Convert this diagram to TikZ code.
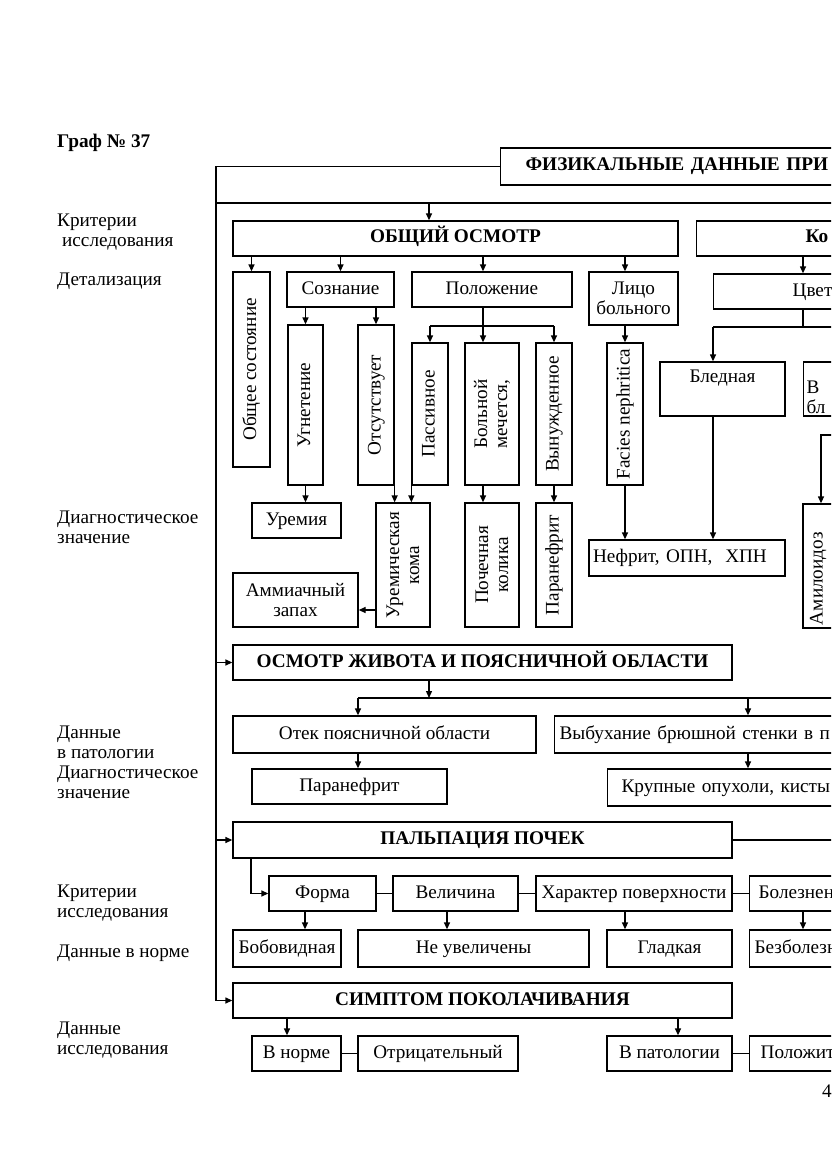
\documentclass[tikz,border=0pt]{standalone}
\usepackage{fontspec}
\setmainfont{Liberation Serif}
\usetikzlibrary{arrows.meta,calc}
\tikzset{every picture/.style={font=\rmfamily\fontsize{19.2}{20}\selectfont}}

\begin{document}
\begin{tikzpicture}[
  x=1pt, y=-1pt,
  box/.style={rectangle, draw, line width=1.3pt, inner sep=2pt, align=center,
    text height=13.5pt, text depth=4.5pt},
  multi/.style={text height=, text depth=},
  sz/.style 2 args={minimum width=#1pt, minimum height=#2pt},
  vbox/.style={box, rotate=90},
  hd/.style={box, font=\rmfamily\fontsize{19.3}{20}\selectfont\bfseries},
  cut/.style={box, anchor=west, align=left, text width=420pt, inner xsep=#1pt},
  lbl/.style={anchor=base west, align=left, inner sep=0pt},
  arrow/.style={-{Triangle[length=7pt,width=6pt]}, line width=1.3pt},
  line/.style={line width=1.3pt}
]
\useasboundingbox (0,0) rectangle (831,1174);
\clip (0,0) rectangle (831,1174);

% Заголовок
\node[lbl, font=\rmfamily\fontsize{19.3}{20}\selectfont\bfseries] (graf) at (57,148) {Граф № 37};
\node[hd, cut=25, minimum height=37pt] (Phys) at (500,166.5) {ФИЗИКАЛЬНЫЕ ДАННЫЕ ПРИ};

% Подписи слева
\node[lbl] (krit1) at (57,247) {Критерии\\\hspace*{5pt}исследования};
\node[lbl] (detal) at (57,285) {Детализация};
\node[lbl] (diag1) at (57,543) {Диагностическое\\значение};
\node[lbl] (patol) at (57,798) {Данные\\в патологии\\Диагностическое\\значение};
\node[lbl] (krit2) at (57,917) {Критерии\\исследования};
\node[lbl] (norma) at (57,957) {Данные в норме};
\node[lbl] (issl) at (57,1054) {Данные\\исследования};

% Общий осмотр
\node[hd, sz={445}{35}] (OO) at (455.5,238.5) {ОБЩИЙ ОСМОТР};
\node[hd, cut=109, minimum height=35pt] (Kozha) at (696,238.5) {Ко};
\node[vbox, sz={195}{37}] (Gen) at (251.5,369.5) {Общее состояние};
\node[box, sz={107}{35}] (Sozn) at (340.5,289.5) {Сознание};
\node[box, sz={160}{35}] (Pol) at (492,289.5) {Положение};
\node[box, multi, sz={89}{53}] (Lico) at (633.5,298.5) {Лицо\\больного};
\node[box, cut=79, minimum height=35pt] (Cvet) at (713,291.5) {Цвет};
\node[vbox, sz={160}{35}] (Ugn) at (305.5,405) {Угнетение};
\node[vbox, sz={160}{36}] (Ots) at (376,405) {Отсутствует};
\node[vbox, sz={142}{36}] (Pas) at (430,414) {Пассивное};
\node[vbox, multi, sz={142}{54}] (Mech) at (492,414) {Больной\\мечется,};
\node[vbox, sz={142}{36}] (Vyn) at (554,414) {Вынужденное};
\node[vbox, sz={142}{36}] (Fac) at (625,414) {Facies nephritica};
\node[box, sz={125}{54}, text height=14pt, text depth=28pt] (Bled) at (722.5,389) {Бледная};
\node[box, multi, cut=3, minimum height=54pt] (Vb) at (803,389) {В\\бл};
% Диагностическое значение
\node[box, sz={89}{35}] (Urem) at (296.5,520.5) {Уремия};
\node[vbox, multi, sz={124}{54}] (Ukoma) at (403,565) {Уремическая\\кома};
\node[box, multi, sz={125}{54}] (Ammi) at (295.5,600) {Аммиачный\\запах};
\node[vbox, multi, sz={124}{54}] (Pkol) at (492,565) {Почечная\\колика};
\node[vbox, sz={124}{36}] (Paran1) at (554,565) {Паранефрит};
\node[box, sz={196}{36}, align=left, text width=188pt, inner xsep=4pt] (Nefr) at (687,558) {Нефрит, ОПН,\ \ ХПН};
\node[vbox, sz={124}{30}, align=left, text width=118pt, inner xsep=3pt] (Amil) at (818,566) {Амилоидоз};

% Осмотр живота
\node[hd, sz={499}{35}] (Abd) at (482.5,662.5) {ОСМОТР ЖИВОТА И ПОЯСНИЧНОЙ ОБЛАСТИ};
\node[box, sz={303}{37}] (Otek) at (384.5,734.5) {Отек поясничной области};
\node[box, cut=5, minimum height=37pt] (Vyb) at (554,734.5) {Выбухание брюшной стенки в п};
\node[box, sz={195}{35}] (Paran2) at (349.5,786.5) {Паранефрит};
\node[box, cut=14, minimum height=37pt] (Krup) at (607,787.5) {Крупные опухоли, кисты};

% Пальпация почек
\node[hd, sz={499}{36}] (Palp) at (482.5,840) {ПАЛЬПАЦИЯ ПОЧЕК};
\node[box, sz={107}{35}] (Forma) at (322.5,893.5) {Форма};
\node[box, sz={125}{35}] (Vel) at (455.5,893.5) {Величина};
\node[box, sz={196}{35}] (Har) at (634,893.5) {Характер поверхности};
\node[box, cut=9, minimum height=35pt] (Bol) at (749,893.5) {Болезнен};
\node[box, sz={108}{37}] (Bob) at (287,948.5) {Бобовидная};
\node[box, sz={231}{37}] (Neuv) at (473.5,948.5) {Не увеличены};
\node[box, sz={125}{37}] (Glad) at (669.5,948.5) {Гладкая};
\node[box, cut=5, minimum height=37pt] (Bezb) at (749,948.5) {Безболезн};

% Симптом поколачивания
\node[hd, sz={499}{35}] (Simp) at (482.5,1000.5) {СИМПТОМ ПОКОЛАЧИВАНИЯ};
\node[box, sz={89}{35}] (Norm) at (296.5,1053.5) {В норме};
\node[box, sz={160}{35}] (Otr) at (438,1053.5) {Отрицательный};
\node[box, sz={125}{35}] (Pat) at (669.5,1053.5) {В патологии};
\node[box, cut=11, minimum height=35pt] (Polo) at (749,1053.5) {Положит};
\node[lbl] (pnum) at (822,1097) {4};

% Опорные точки линий
\coordinate (sp) at (216,1000.5);
\coordinate (b0) at (216,203);
\coordinate (b0r) at (845,203);
\coordinate (xa) at (429,203);
\coordinate (pb) at (483,326);
\coordinate (xk) at (803,327);
\coordinate (xb) at (713,327);
\coordinate (xbr) at (845,327);
\coordinate (am) at (821,435);
\coordinate (amr) at (845,435);
\coordinate (ua) at (376,610);
\coordinate (ab) at (429,698);
\coordinate (ab1) at (358,698);
\coordinate (ab2) at (748,698);
\coordinate (abr) at (845,698);
\coordinate (pr) at (845,840);
\coordinate (pf) at (251,893.5);
\coordinate (rBob) at (305,0);
\coordinate (rNeuv) at (447,0);
\coordinate (rGlad) at (625,0);
\coordinate (rNorm) at (287,0);
\coordinate (rPat) at (678,0);

% Стрелки (вертикальные блоки повернуты: east = верх, west = низ)
\draw[line] (Phys.west) -| (sp);
\draw[arrow] (Abd.west -| sp) -- (Abd.west);
\draw[arrow] (Palp.west -| sp) -- (Palp.west);
\draw[arrow] (sp) -- (Simp.west);
\draw[line] (b0) -- (b0r);
\draw[arrow] (xa) -- (xa |- OO.north);

\draw[arrow] (OO.south -| Gen) -- (Gen.east);
\draw[arrow] (OO.south -| Sozn) -- (Sozn.north);
\draw[arrow] (OO.south -| pb) -- (Pol.north -| pb);
\draw[arrow] (OO.south -| Fac) -- (Lico.north -| Fac);
\draw[arrow] (Kozha.south -| xk) -- (Cvet.north -| xk);
\draw[arrow] (Sozn.south -| Ugn) -- (Ugn.east);
\draw[arrow] (Sozn.south -| Ots) -- (Ots.east);
\draw[line] (Pol.south -| pb) -- (pb);
\draw[line] (pb -| Pas) -- (pb -| Vyn);
\draw[arrow] (pb -| Pas) -- (Pas.east);
\draw[arrow] (pb) -- (pb |- Mech.east);
\draw[arrow] (pb -| Vyn) -- (Vyn.east);
\draw[arrow] (Lico.south -| Fac) -- (Fac.east);
\draw[line] (Cvet.south -| xk) -- (xk);
\draw[line] (xb) -- (xbr);
\draw[arrow] (xb) -- (xb |- Bled.north);
\draw[arrow] (amr) -- (am) -- (am |- Amil.east);

\draw[arrow] (Ugn.west) -- (Ugn.west |- Urem.north);
\draw[arrow] (Ots.south west) -- (Ots.south west |- Ukoma.east);
\draw[arrow] (Pas.north west) -- (Pas.north west |- Ukoma.east);
\draw[arrow] (Mech.west -| pb) -- (pb |- Pkol.east);
\draw[arrow] (Vyn.west) -- (Vyn.west |- Paran1.east);
\draw[arrow] (Fac.west) -- (Fac.west |- Nefr.north);
\draw[arrow] (Bled.south -| xb) -- (xb |- Nefr.north);
\draw[arrow] (Ukoma.north |- ua) -- (Ammi.east |- ua);

\draw[arrow] (Abd.south -| ab) -- (ab);
\draw[line] (ab1) -- (abr);
\draw[arrow] (ab1) -- (Otek.north -| ab1);
\draw[arrow] (Otek.south -| ab1) -- (Paran2.north -| ab1);
\draw[arrow] (ab2) -- (Vyb.north -| ab2);
\draw[arrow] (Vyb.south -| ab2) -- (Krup.north -| ab2);

\draw[line] (Palp.east) -- (pr);
\draw[arrow] (Palp.south -| pf) -- (pf) -- (Forma.west);
\draw[line] (Forma.east) -- (Vel.west);
\draw[line] (Vel.east) -- (Har.west);
\draw[line] (Har.east) -- (Bol.west);
\draw[arrow] (Forma.south -| rBob) -- (Bob.north -| rBob);
\draw[arrow] (Vel.south -| rNeuv) -- (Neuv.north -| rNeuv);
\draw[arrow] (Har.south -| rGlad) -- (Glad.north -| rGlad);
\draw[arrow] (Bol.south -| xk) -- (Bezb.north -| xk);

\draw[arrow] (Simp.south -| rNorm) -- (Norm.north -| rNorm);
\draw[arrow] (Simp.south -| rPat) -- (Pat.north -| rPat);
\draw[line] (Norm.east) -- (Otr.west);
\draw[line] (Pat.east) -- (Polo.west);
\end{tikzpicture}
\end{document}
